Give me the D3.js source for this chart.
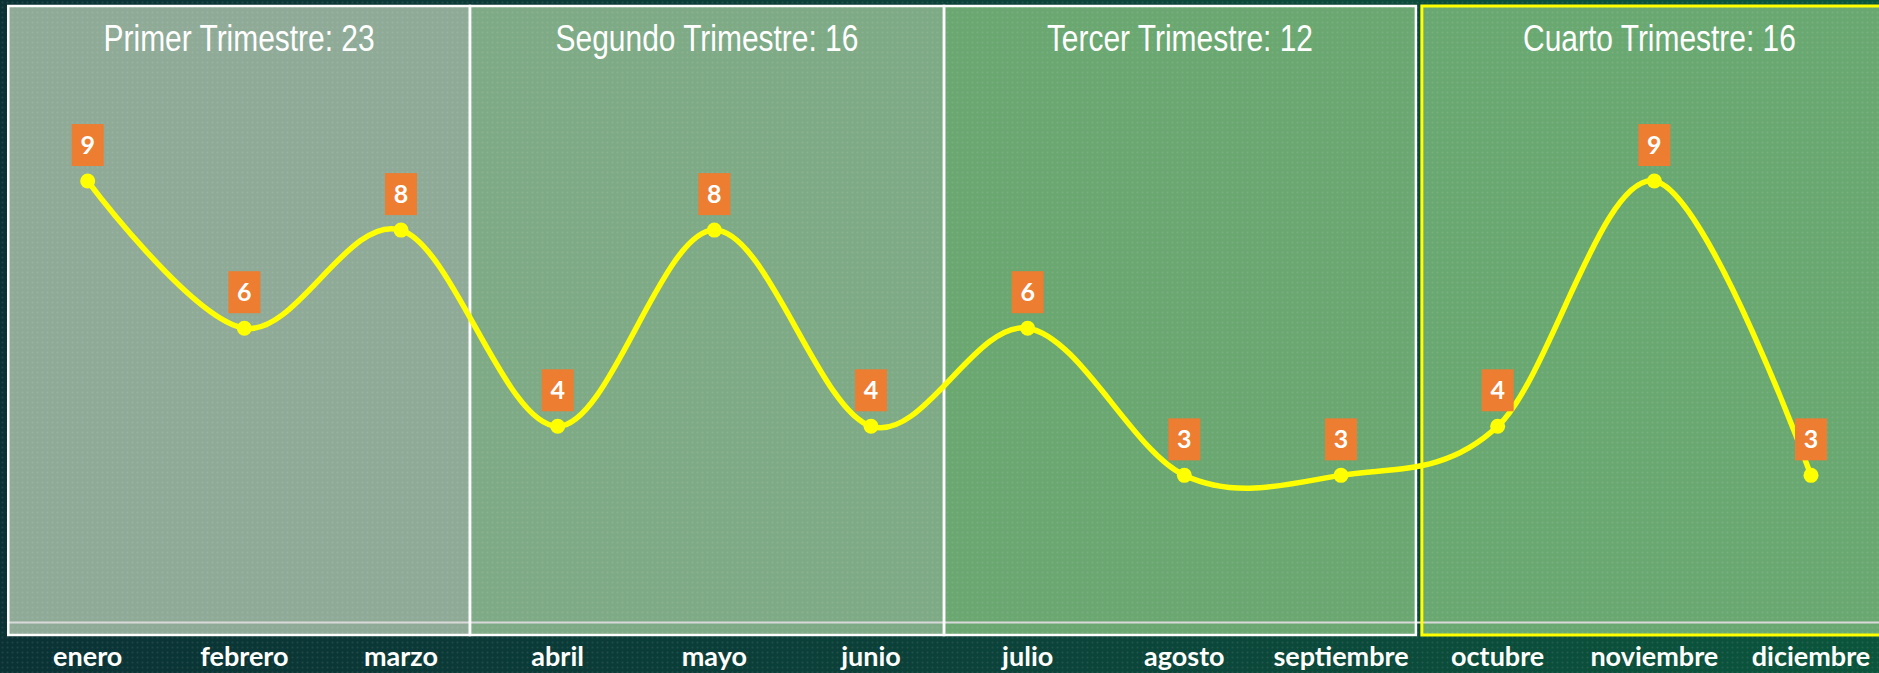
<!DOCTYPE html>
<html>
<head>
<meta charset="utf-8">
<script src="https://cdn.jsdelivr.net/npm/d3@7"></script>
<style>
html,body{margin:0;padding:0;background:#0b3a38;}
svg{display:block;}
</style>
</head>
<body>
<svg id="chart" width="1879" height="673"></svg>
<script>
// ---- data ----
const months = ["enero","febrero","marzo","abril","mayo","junio","julio","agosto","septiembre","octubre","noviembre","diciembre"];
const values = [9,6,8,4,8,4,6,3,3,4,9,3];
const quarterNames = ["Primer Trimestre","Segundo Trimestre","Tercer Trimestre","Cuarto Trimestre"];
const quarterMonths = [[0,1,2],[3,4,5],[6,7,8],[9,10,11]];
// quarter panel edges, in month-index units
const quarterEdges = [[-0.507,2.44],[2.44,5.466],[5.466,8.478],[8.516,11.55]];
const quarterFills = ["#8fab98","#7eaa86","#6aa771","#6aa872"];
const quarterStrokes = ["#ffffff","#ffffff","#ffffff","#ffff00"];
const yDomain = [0,12];

const W = 1879, H = 673;
const svg = d3.select("#chart");
const defs = svg.append("defs");

const bg = defs.append("linearGradient").attr("id","bg").attr("x1","0").attr("x2","1").attr("y1","0").attr("y2","0");
bg.append("stop").attr("offset","0").attr("stop-color","#0a3235");
bg.append("stop").attr("offset","0.5").attr("stop-color","#0b4139");
bg.append("stop").attr("offset","1").attr("stop-color","#0b553c");

const pat = defs.append("pattern").attr("id","dots").attr("width",5).attr("height",5).attr("patternUnits","userSpaceOnUse");
pat.append("circle").attr("cx",2.5).attr("cy",2.5).attr("r",1).attr("fill","#ffffff").attr("opacity",0.09);

svg.append("rect").attr("width",W).attr("height",H).attr("fill","url(#bg)");

// scales
const xi = d3.scaleLinear().domain([0,11]).range([87.7,1811]);
const y = d3.scaleLinear().domain(yDomain).range([622.5, 622.5-12*49.05]);
const panelTop = 6, panelBottom = 635;

// quarter panels
const qg = svg.append("g");
quarterEdges.forEach((e,i)=>{
  qg.append("rect")
    .attr("x", xi(e[0])).attr("y", panelTop)
    .attr("width", xi(e[1])-xi(e[0])).attr("height", panelBottom-panelTop)
    .attr("fill", quarterFills[i]);
});
// dot texture over everything
svg.append("rect").attr("width",W).attr("height",H).attr("fill","url(#dots)");

// x axis line
svg.append("line").attr("x1", xi(-0.507)).attr("x2", W).attr("y1", y(0)).attr("y2", y(0))
  .attr("stroke","#d9d9d9").attr("stroke-width",2.2);

// panel borders
const bg2 = svg.append("g");
quarterEdges.forEach((e,i)=>{
  bg2.append("rect")
    .attr("x", xi(e[0])).attr("y", panelTop)
    .attr("width", xi(e[1])-xi(e[0])).attr("height", panelBottom-panelTop)
    .attr("fill","none").attr("stroke", quarterStrokes[i]).attr("stroke-width", i===3?3:2.5);
});

// quarter titles
const narrowFamily = "'Liberation Sans Narrow','Arial Narrow','Liberation Sans',Arial,sans-serif";
quarterEdges.forEach((e,i)=>{
  const total = d3.sum(quarterMonths[i], m=>values[m]);
  const label = quarterNames[i] + ": " + total;
  const cx = (xi(e[0])+xi(e[1]))/2;
  const ref = svg.append("text").attr("font-family","'Liberation Sans',Arial,sans-serif").attr("font-size",36.5).text(label);
  const target = ref.node().getComputedTextLength()*0.82;
  ref.remove();
  svg.append("text")
    .attr("x", cx - target/2).attr("y", 51)
    .attr("font-family", narrowFamily).attr("font-size", 36.5)
    .attr("fill","#ffffff")
    .attr("textLength", target).attr("lengthAdjust","spacingAndGlyphs")
    .text(label);
});

// month labels
svg.append("g").selectAll("text").data(months).join("text")
  .attr("x",(d,i)=>xi(i)).attr("y",666)
  .attr("text-anchor","middle")
  .attr("font-family","Lato,'Open Sans',sans-serif").attr("font-weight","bold").attr("font-size",27)
  .attr("fill","#ffffff")
  .text(d=>d);

// line
const line = d3.line().x((d,i)=>xi(i)).y(d=>y(d)).curve(d3.curveCardinal.tension(0));
svg.append("path").datum(values).attr("d", line)
  .attr("fill","none").attr("stroke","#ffff00").attr("stroke-width",5.5).attr("stroke-linecap","round");

svg.append("g").selectAll("circle").data(values).join("circle")
  .attr("cx",(d,i)=>xi(i)).attr("cy",d=>y(d)).attr("r",7.5).attr("fill","#ffff00");

// data labels
const lg = svg.append("g").selectAll("g").data(values).join("g")
  .attr("transform",(d,i)=>`translate(${xi(i)},${y(d)})`);
lg.append("rect").attr("x",-16).attr("y",-57).attr("width",32).attr("height",42).attr("fill","#ed7d31");
lg.append("text").attr("x",0).attr("y",-27).attr("text-anchor","middle")
  .attr("font-family","Lato,'Open Sans',sans-serif").attr("font-weight","bold").attr("font-size",25)
  .attr("fill","#ffffff").text(d=>d);
</script>
</body>
</html>
